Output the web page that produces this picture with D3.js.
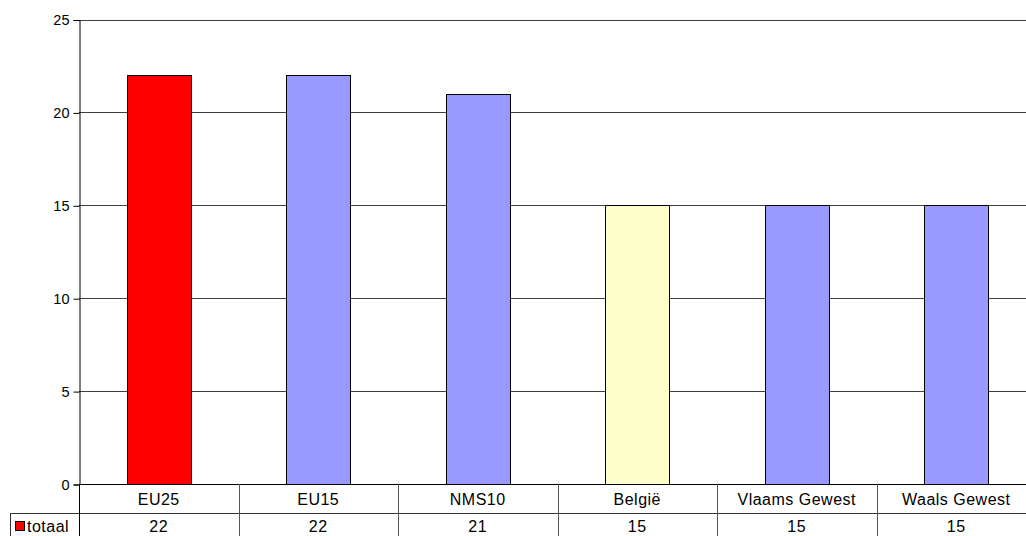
<!DOCTYPE html>
<html><head><meta charset="utf-8">
<script src="https://cdn.jsdelivr.net/npm/d3@7"></script>
<style>body{margin:0;background:#fff;overflow:hidden}svg{display:block;font-family:Arial,"Liberation Sans",sans-serif}</style>
</head><body>
<svg id="c" width="1026" height="536"></svg>
<script>
const categories = ["EU25","EU15","NMS10","België","Vlaams Gewest","Waals Gewest"];
const values = [22,22,21,15,15,15];
const barColors = ["#FF0000","#9999FF","#9999FF","#FFFFCC","#9999FF","#9999FF"];
const seriesName = "totaal";
const yTicks = [0,5,10,15,20,25];

const svg = d3.select("#c");
const L = 79, R = 1036, T = 19.5, B = 484;
const x = d3.scaleBand().domain(categories).range([L,R]).paddingInner(0).paddingOuter(0);
const y = d3.scaleLinear().domain([0,25]).range([B,T]);

// gridlines
svg.append("g").selectAll("line").data(yTicks.filter(d=>d>0)).join("line")
  .attr("x1",L).attr("x2",R).attr("y1",d=>Math.round(y(d))+0.5).attr("y2",d=>Math.round(y(d))+0.5)
  .attr("stroke","#000").attr("stroke-width",1).attr("opacity",0.75);

// bars
const bw = x.bandwidth()*0.4;
svg.append("g").selectAll("rect").data(categories).join("rect")
  .attr("x",d=>Math.round(x(d)+x.bandwidth()/2-bw/2)+0.5)
  .attr("y",(d,i)=>Math.round(y(values[i]))+0.5)
  .attr("width",Math.round(bw))
  .attr("height",(d,i)=>Math.round(B)-Math.round(y(values[i])))
  .attr("fill",(d,i)=>barColors[i]).attr("stroke","#000").attr("stroke-width",1);

// y axis
const ax = svg.append("g").attr("transform",`translate(${L+0.5},0.5)`)
  .call(d3.axisLeft(y).tickValues(yTicks).tickSize(6).tickPadding(4));
ax.select(".domain").attr("stroke","#000");
ax.selectAll(".tick line").attr("stroke","#000");
ax.selectAll("text").attr("font-size","14.5px").attr("fill","#000").attr("font-family","Arial, 'Liberation Sans', sans-serif");

// data table
const row2 = 513.5, row3 = 545;
const tg = svg.append("g");
tg.append("line").attr("x1",L).attr("x2",R).attr("y1",B+0.5).attr("y2",B+0.5).attr("stroke","#000");
tg.append("line").attr("x1",10).attr("x2",R).attr("y1",row2).attr("y2",row2).attr("stroke","#333");
tg.append("line").attr("x1",10.5).attr("x2",10.5).attr("y1",row2).attr("y2",row3).attr("stroke","#333");
tg.selectAll("line.v").data(categories.slice(1)).join("line").attr("class","v")
  .attr("x1",d=>Math.round(x(d))+0.5).attr("x2",d=>Math.round(x(d))+0.5)
  .attr("y1",B).attr("y2",row3).attr("stroke","#555");
tg.append("line").attr("x1",L+0.5).attr("x2",L+0.5).attr("y1",B).attr("y2",row3).attr("stroke","#000");
tg.selectAll("text.cat").data(categories).join("text").attr("class","cat")
  .attr("x",d=>x(d)+x.bandwidth()/2).attr("y",505).attr("text-anchor","middle")
  .attr("font-size","16px").attr("letter-spacing","0.5px").attr("fill","#000").text(d=>d);
tg.selectAll("text.val").data(values).join("text").attr("class","val")
  .attr("x",(d,i)=>x(categories[i])+x.bandwidth()/2).attr("y",532).attr("text-anchor","middle")
  .attr("font-size","16px").attr("letter-spacing","0.5px").attr("fill","#000").text(d=>d);
// legend key
tg.append("rect").attr("x",15.5).attr("y",521.5).attr("width",9).attr("height",9)
  .attr("fill",barColors[0]).attr("stroke","#000");
tg.append("text").attr("x",27).attr("y",532).attr("font-size","16px").attr("letter-spacing","0.5px").attr("fill","#000").text(seriesName);
</script>
</body></html>
